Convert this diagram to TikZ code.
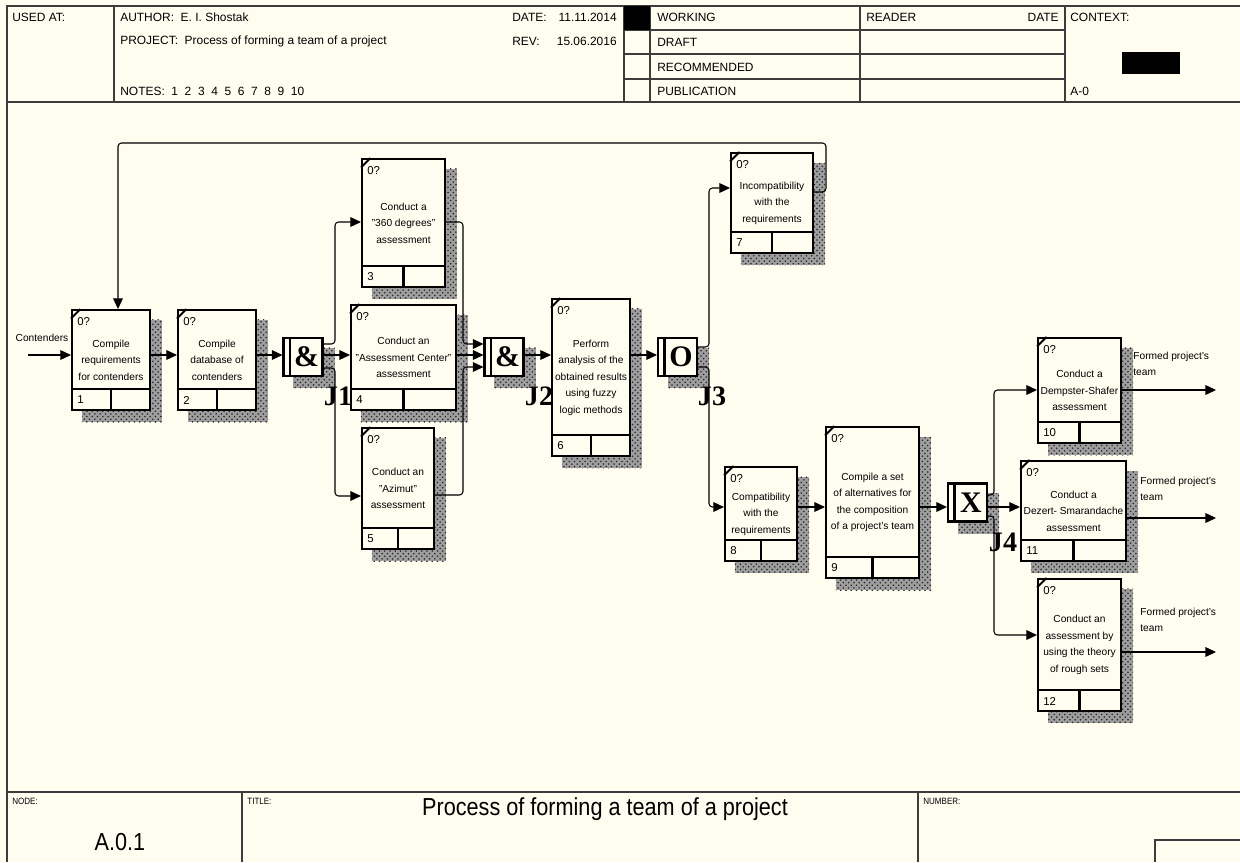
\documentclass[tikz,border=0pt]{standalone}
\usepackage{fontspec}
\setmainfont{Liberation Sans}
\newfontfamily\condsans[FakeStretch=0.88]{Liberation Sans}
\newfontfamily\juncfont{Liberation Serif}
\usetikzlibrary{positioning,arrows.meta,patterns}
\definecolor{paper}{HTML}{FFFCF0}
\definecolor{rulegray}{HTML}{3C3C3C}
\pgfdeclarelayer{bg}
\pgfsetlayers{bg,main}
\tikzset{
  actbox/.style={draw, line width=1.2pt, fill=paper, inner sep=0pt, align=center, font=\fontsize{5.8}{9.4}\selectfont},
  junc/.style={draw, line width=1.2pt, fill=paper, minimum width=0.78cm, minimum height=0.76cm, inner sep=0pt, font=\juncfont\bfseries\fontsize{17}{17}\selectfont},
  jlabel/.style={inner sep=0pt, font=\juncfont\bfseries\fontsize{16}{16}\selectfont},
  flow/.style={-{Triangle[length=6pt,width=5.5pt]}, line width=0.6pt, rounded corners=2pt},
  hdr/.style={anchor=west, inner sep=0pt, font=\fontsize{6.8}{8}\selectfont},
  small/.style={anchor=west, inner sep=0pt, font=\condsans\fontsize{5.2}{6}\selectfont},
  tag/.style={anchor=west, inner sep=0pt, font=\fontsize{6.5}{7}\selectfont},
  outlabel/.style={anchor=north west, inner sep=0pt, align=left, font=\fontsize{5.8}{9.2}\selectfont},
}

\begin{document}
\begin{tikzpicture}[x=0.02cm, y=-0.02cm]
    \useasboundingbox (0,0) rectangle (1240,862);

    \draw[rulegray, line width=0.9pt] (7,862) -- (7,6) -- (1240,6);
    \draw[rulegray, line width=0.9pt] (7,102) -- (1240,102);
    \draw[rulegray, line width=0.9pt] (7,792) -- (1240,792);
    \foreach \x in {114,624,650,860,1065}
        \draw[rulegray, line width=0.7pt] (\x,6) -- (\x,102);
    \foreach \y in {30,54,79}
        \draw[rulegray, line width=0.7pt] (624,\y) -- (1065,\y);
    \fill (624,6) rectangle (650,30);
    \fill (1122,52) rectangle (1180,74);
    \draw[rulegray, line width=0.7pt] (242,792) -- (242,862);
    \draw[rulegray, line width=0.7pt] (918,792) -- (918,862);
    \draw[rulegray, line width=0.7pt] (1155,862) |- (1240,840);

    \node (usedat) [hdr] at (12,17) {USED AT:};
    \node (author) [hdr] at (120,17) {AUTHOR:\ \ E. I. Shostak};
    \node (project) [hdr] at (120,41) {PROJECT:\ \ Process of forming a team of a project};
    \node (notes) [hdr] at (120,91) {NOTES:\ \ 1\ \ 2\ \ 3\ \ 4\ \ 5\ \ 6\ \ 7\ \ 8\ \ 9\ \ 10};
    \node (date) [hdr] at (512,17) {DATE:};
    \node (dateval) [hdr, anchor=east] at (617,17) {11.11.2014};
    \node (rev) [hdr] at (512,41) {REV:};
    \node (revval) [hdr, anchor=east] at (617,41) {15.06.2016};
    \node (working) [hdr] at (657,17) {WORKING};
    \node (draft) [hdr] at (657,42) {DRAFT};
    \node (recommended) [hdr] at (657,67) {RECOMMENDED};
    \node (publication) [hdr] at (657,91) {PUBLICATION};
    \node (reader) [hdr] at (866,17) {READER};
    \node (readerdate) [hdr, anchor=east] at (1059,17) {DATE};
    \node (context) [hdr] at (1070,17) {CONTEXT:};
    \node (ctxnode) [hdr] at (1070,91) {A-0};

    \node (nodelbl) [small] at (12,801) {NODE:};
    \node (nodeid) [font=\condsans\fontsize{14}{16}\selectfont] at (120,842) {A.0.1};
    \node (titlelbl) [small] at (247,801) {TITLE:};
    \node (title) [font=\condsans\fontsize{14}{16}\selectfont] at (605,809) {Process of forming a team of a project};
    \node (numberlbl) [small] at (923,801) {NUMBER:};

    \node (b1) [actbox, minimum width=1.56cm, minimum height=2cm] at (111,360) {Compile\\requirements\\for contenders};
    \node (b2) [actbox, minimum width=1.56cm, minimum height=2cm] at (217,360) {Compile\\database of\\contenders};
    \node (b3) [actbox, minimum width=1.66cm, minimum height=2.56cm] at (403.5,223) {Conduct a\\"360 degrees"\\assessment};
    \node (b4) [actbox, minimum width=2.1cm, minimum height=2.1cm] at (403.5,357.5) {Conduct an\\"Assessment Center"\\assessment};
    \node (b5) [actbox, minimum width=1.44cm, minimum height=2.42cm] at (398,488.5) {Conduct an\\"Azimut"\\assessment};
    \node (b6) [actbox, minimum width=1.56cm, minimum height=3.14cm] at (591,377.5) {Perform\\analysis of the\\obtained results\\using fuzzy\\logic methods};
    \node (b7) [actbox, minimum width=1.64cm, minimum height=2cm] at (772,203) {Incompatibility\\with the\\requirements};
    \node (b8) [actbox, minimum width=1.44cm, minimum height=1.88cm] at (761,514) {Compatibility\\with the\\requirements};
    \node (b9) [actbox, minimum width=1.86cm, minimum height=3.02cm] at (872.5,502.5) {Compile a set\\of alternatives for\\the composition\\of a project's team};
    \node (b10) [actbox, minimum width=1.66cm, minimum height=2.1cm] at (1079.5,390.5) {Conduct a\\Dempster-Shafer\\assessment};
    \node (b11) [actbox, minimum width=2.1cm, minimum height=2cm] at (1073.5,511) {Conduct a\\Dezert- Smarandache\\assessment};
    \node (b12) [actbox, minimum width=1.66cm, minimum height=2.64cm] at (1079.5,645) {Conduct an\\assessment by\\using the theory\\of rough sets};

    \foreach \b/\n in {b1/1,b2/2,b3/3,b4/4,b5/5,b6/6,b7/7,b8/8,b9/9,b10/10,b11/11,b12/12} {
        \draw[line width=1.2pt] ([yshift=0.44cm]\b.south west) -- ([yshift=0.44cm]\b.south east);
        \draw[line width=1.2pt] (\b.south) -- ([yshift=0.44cm]\b.south);
        \draw[line width=1.1pt] ([yshift=-0.19cm]\b.north west) -- ([xshift=0.19cm]\b.north west);
        \node (\b-tag) [tag] at ([xshift=0.12cm, yshift=-0.26cm]\b.north west) {0?};
        \node (\b-num) [tag] at ([xshift=0.12cm, yshift=0.22cm]\b.south west) {\n};
    }

    \node (j1) [junc] at (303,357) {\hspace*{4pt}\&};
    \node (j2) [junc] at (504,357) {\hspace*{4pt}\&};
    \node (j3) [junc] at (677.5,357) {\hspace*{4pt}O};
    \node (j4) [junc] at (967.5,502.5) {\hspace*{4pt}X};
    \foreach \j in {j1,j2,j3,j4}
        \draw[line width=1.2pt] ([xshift=0.15cm]\j.north west) -- ([xshift=0.15cm]\j.south west);

    \node (j1-lbl) [jlabel] at (338,396) {J1};
    \node (j2-lbl) [jlabel] at (539,396) {J2};
    \node (j3-lbl) [jlabel] at (712,396) {J3};
    \node (j4-lbl) [jlabel] at (1003,542) {J4};

    \coordinate (in) at (28,355);
    \node (inlbl) [font=\fontsize{5.8}{7}\selectfont, inner sep=0pt] at (42,338) {Contenders};
    \draw[flow] (in) -- (b1.west |- in);
    \draw[flow] (b1.east |- in) -- (b2.west |- in);
    \draw[flow] (b2.east |- in) -- (j1.west |- in);

    \draw[flow] (j1.east |- 0,344) -| (335,222) -- (b3.west |- 0,222);
    \draw[flow] (j1.east |- in) -- (b4.west |- in);
    \draw[flow] (j1.east |- 0,368) -| (335,496) -- (b5.west |- 0,496);

    \draw[flow] (b3.east |- 0,222) -| (463,344) -- (j2.west |- 0,344);
    \draw[flow] (b4.east |- in) -- (j2.west |- in);
    \draw[flow] (b5.east |- 0,495) -| (463,367) -- (j2.west |- 0,367);

    \draw[flow] (j2.east |- in) -- (b6.west |- in);
    \draw[flow] (b6.east |- in) -- (j3.west |- in);

    \draw[flow] (j3.east |- 0,347) -| (709,188) -- (b7.west |- 0,188);
    \draw[flow] (j3.east |- 0,367) -| (709,507) -- (b8.west |- 0,507);
    \draw[flow] (b7.east |- 0,192) -| (826,143) -| (118,0 |- b1.north);

    \draw[flow] (b8.east |- 0,507) -- (b9.west |- 0,507);
    \draw[flow] (b9.east |- 0,507) -- (j4.west |- 0,507);

    \draw[flow] (j4.east |- 0,495) -| (994,390) -- (b10.west |- 0,390);
    \draw[flow] (j4.east |- 0,507) -- (b11.west |- 0,507);
    \draw[flow] (j4.east |- 0,516) -| (994,635) -- (b12.west |- 0,635);

    \coordinate (out10) at (1216,390);
    \coordinate (out11) at (1216,518);
    \coordinate (out12) at (1216,652);
    \draw[flow] (b10.east |- out10) -- (out10);
    \draw[flow] (b11.east |- out11) -- (out11);
    \draw[flow] (b12.east |- out12) -- (out12);
    \node (out10-lbl) [outlabel] at (1133,352) {Formed project's\\team};
    \node (out11-lbl) [outlabel] at (1140,477) {Formed project's\\team};
    \node (out12-lbl) [outlabel] at (1140,608) {Formed project's\\team};

    \begin{pgfonlayer}{bg}
        \fill[paper] (0,0) rectangle (1240,862);
        \foreach \b in {b1,b2,b3,b4,b5,b6,b7,b8,b9,b10,b11,b12,j1,j2,j3,j4} {
            \fill[black!38] ([xshift=0.22cm,yshift=-0.22cm]\b.north west) rectangle ([xshift=0.22cm,yshift=-0.22cm]\b.south east);
            \fill[pattern=crosshatch dots, pattern color=black!85] ([xshift=0.22cm,yshift=-0.22cm]\b.north west) rectangle ([xshift=0.22cm,yshift=-0.22cm]\b.south east);
        }
    \end{pgfonlayer}
\end{tikzpicture}
\end{document}
